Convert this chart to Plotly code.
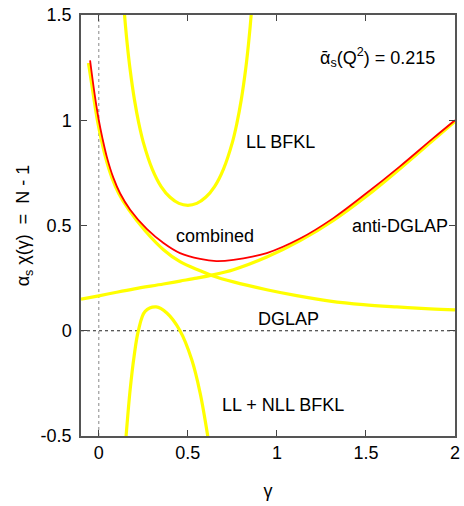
import plotly.graph_objects as go

# ---- data ----
ll_x = [0.143, 0.15, 0.16, 0.175, 0.2, 0.225, 0.25, 0.3, 0.35, 0.4, 0.45, 0.5,
        0.55, 0.6, 0.65, 0.7, 0.75, 0.775, 0.8, 0.825, 0.84, 0.85, 0.857]
ll_y = [1.516, 1.446, 1.358, 1.246, 1.098, 0.984, 0.895, 0.768, 0.685, 0.634, 0.605, 0.596,
        0.605, 0.634, 0.685, 0.768, 0.895, 0.984, 1.098, 1.246, 1.358, 1.446, 1.516]

nll_x = [0.153, 0.176, 0.198, 0.222, 0.26, 0.322, 0.382, 0.456, 0.522, 0.569, 0.612]
nll_y = [-0.502, -0.28, -0.122, 0.0, 0.092, 0.113, 0.084, 0.0, -0.138, -0.296, -0.502]

dglap_x = [-0.058, -0.033, -0.008, 0.012, 0.037, 0.074, 0.112, 0.168, 0.26, 0.363, 0.456,
           0.569, 0.634, 0.756, 0.943, 1.111, 1.298, 1.485, 1.673, 1.86, 2.0]
dglap_y = [1.272, 1.1325, 1.0, 0.916, 0.826, 0.726, 0.652, 0.575, 0.475, 0.385, 0.328,
           0.285, 0.263, 0.232, 0.195, 0.167, 0.141, 0.124, 0.113, 0.104, 0.099]

anti_x = [-0.1, 0.0, 0.1, 0.2, 0.363, 0.456, 0.55, 0.634, 0.756, 0.943, 1.13, 1.317,
          1.504, 1.691, 1.878, 2.0]
anti_y = [0.150, 0.166, 0.183, 0.199, 0.222, 0.236, 0.250, 0.264, 0.290, 0.350, 0.428, 0.524,
          0.640, 0.770, 0.906, 0.995]

comb_x = [-0.049, -0.025, 0.0, 0.02, 0.045, 0.082, 0.12, 0.176, 0.269, 0.363, 0.456, 0.569,
          0.66, 0.756, 0.943, 1.13, 1.317, 1.504, 1.691, 1.878, 2.0]
comb_y = [1.284, 1.1325, 1.0, 0.916, 0.826, 0.726, 0.652, 0.575, 0.484, 0.417, 0.369, 0.341,
          0.331, 0.337, 0.369, 0.438, 0.535, 0.654, 0.781, 0.915, 1.0]

x_ticks = [0, 0.5, 1, 1.5, 2]
x_tick_labels = ["0", "0.5", "1", "1.5", "2"]
y_ticks = [-0.5, 0, 0.5, 1, 1.5]
y_tick_labels = ["-0.5", "0", "0.5", "1", "1.5"]

labels = [
    ("LL BFKL", 1.018, 0.898),
    ("combined", 0.653, 0.448),
    ("anti-DGLAP", 1.69, 0.50),
    ("DGLAP", 1.063, 0.057),
    ("LL + NLL BFKL", 1.032, -0.352),
]

FONT = "Liberation Sans, Arial, Helvetica, sans-serif"
YEL = "#ffff00"
RED = "#ff0000"

fig = go.Figure()
for xs, ys in [(ll_x, ll_y), (nll_x, nll_y), (dglap_x, dglap_y), (anti_x, anti_y)]:
    fig.add_trace(go.Scatter(x=xs, y=ys, mode="lines",
                             line=dict(color=YEL, width=3.2, shape="spline", smoothing=1.0),
                             showlegend=False, hoverinfo="skip"))
fig.add_trace(go.Scatter(x=comb_x, y=comb_y, mode="lines",
                         line=dict(color=RED, width=1.8, shape="spline", smoothing=1.0),
                         showlegend=False, hoverinfo="skip"))

# dotted reference lines
fig.add_shape(type="line", x0=0, x1=0, y0=-0.5, y1=1.5, xref="x", yref="y",
              line=dict(color="#888888", width=1, dash="dot"), layer="below")
fig.add_shape(type="line", x0=-0.1, x1=2, y0=0, y1=0, xref="x", yref="y",
              line=dict(color="#222222", width=1, dash="dot"), layer="below")

for txt, x, y in labels:
    fig.add_annotation(x=x, y=y, text=txt, showarrow=False, xref="x", yref="y",
                       font=dict(family=FONT, size=18, color="black"))

fig.add_annotation(x=1.9, y=1.30, text="ᾱ<sub>s</sub>(Q<sup>2</sup>) = 0.215", showarrow=False,
                   xref="x", yref="y", xanchor="right",
                   font=dict(family=FONT, size=18, color="black"))

axis_common = dict(showgrid=False, zeroline=False, ticks="inside", ticklen=6, tickwidth=1,
                   tickcolor="#444444", linecolor="#555555", linewidth=1.5, mirror="ticks",
                   tickfont=dict(family=FONT, size=18, color="black"), showline=True,
                   automargin=False)

fig.update_xaxes(range=[-0.1, 2], tickvals=x_ticks, ticktext=x_tick_labels,
                 title=dict(text="γ", font=dict(family=FONT, size=18, color="black"), standoff=22),
                 **axis_common)
fig.update_yaxes(range=[-0.5, 1.5], tickvals=y_ticks, ticktext=y_tick_labels,
                 title=dict(text="α<sub>s</sub> χ(γ)\u00a0\u00a0=\u00a0\u00a0N - 1",
                            font=dict(family=FONT, size=18, color="black"), standoff=6),
                 ticklabelstandoff=4,
                 **axis_common)

fig.update_layout(width=464, height=506, margin=dict(l=81, r=9, t=15, b=70),
                  plot_bgcolor="white", paper_bgcolor="white")

fig.write_html("out.html")
